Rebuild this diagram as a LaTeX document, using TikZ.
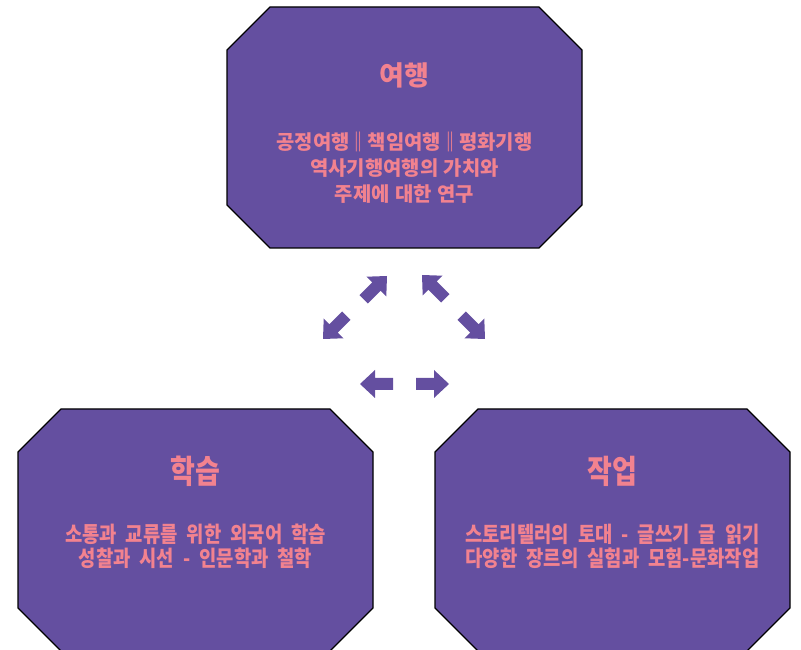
\documentclass[tikz,border=0pt]{standalone}
\usepackage{fontspec}
\newfontfamily\kr{Noto Sans CJK KR}
\definecolor{boxfill}{HTML}{644FA0}
\definecolor{txtpink}{HTML}{F2828F}
\newcommand\titlefont{\kr\bfseries\fontsize{27}{32}\selectfont}
\newcommand\topbodyfont{\kr\bfseries\fontsize{19.9}{26}\selectfont\spaceskip=5.5pt\relax}
\newcommand\botbodyfont{\kr\bfseries\fontsize{18.8}{21.2}\selectfont\spaceskip=9pt\relax}
\newcommand\dbar{\makebox[7pt][c]{‖}}
\newcommand\octobox[5]{% x1 ytop x2 ybot cut
  \draw[box] (#1+#5,#2) -- (#3-#5,#2) -- (#3,#2-#5) -- (#3,#4+#5) -- (#3-#5,#4)
    -- (#1+#5,#4) -- (#1,#4+#5) -- (#1,#2-#5) -- cycle;}
\tikzset{
  box/.style={fill=boxfill, draw=black, line width=1.2pt, line join=miter},
  ttl/.style={text=txtpink, font=\titlefont, inner sep=0pt},
  tbody/.style={text=txtpink, font=\topbodyfont, align=center, inner sep=0pt},
  bbody/.style={text=txtpink, font=\botbodyfont, align=center, inner sep=0pt},
  blockarr/.pic={\fill[boxfill] (0,0) -- (-15,14) -- (-15,6) -- (-33,6) -- (-33,-6)
    -- (-15,-6) -- (-15,-14) -- cycle;}
}
\begin{document}
\begin{tikzpicture}[x=1pt,y=1pt]
\useasboundingbox (0,0) rectangle (801,650);
\path[clip] (0,0) rectangle (801,650);
% boxes
\octobox{227}{643}{582}{402}{43}
\octobox{18}{241}{373}{-1}{43}
\octobox{435}{241}{790}{-1}{43}
% top texts
\node[ttl] (ttop) at (404.5,575) {여행};
\node[tbody] (btop) at (404.5,482) {공정여행 \dbar{} 책임여행 \dbar{} 평화기행\\역사기행여행의 가치와\\주제에 대한 연구};
% bottom-left texts
\begin{scope}[shift={(195.5,179)}, yscale=1.2]
\node[ttl, transform shape] (tleft) at (0,0) {학습};
\end{scope}
\begin{scope}[shift={(195.5,103.5)}, yscale=1.16]
\node[bbody, transform shape] (bleft) at (0,0) {소통과 교류를 위한 외국어 학습\\성찰과 시선 - 인문학과 철학};
\end{scope}
% bottom-right texts
\begin{scope}[shift={(612.5,179)}, yscale=1.2]
\node[ttl, transform shape] (tright) at (0,0) {작업};
\end{scope}
\begin{scope}[shift={(612.5,103.5)}, yscale=1.16]
\node[bbody, transform shape] (bright) at (0,0) {스토리텔러의 토대 - 글쓰기 글 읽기\\다양한 장르의 실험과 모험-문화작업};
\end{scope}
% arrows
\pic[rotate=45] (aur) at (387,374) {blockarr};
\pic[rotate=225] (adl) at (323,311) {blockarr};
\pic[rotate=135] (aul) at (422,375) {blockarr};
\pic[rotate=-45] (adr) at (485,311) {blockarr};
\pic[rotate=180] (al) at (360,266) {blockarr};
\pic (ar) at (449,266) {blockarr};
\end{tikzpicture}
\end{document}
